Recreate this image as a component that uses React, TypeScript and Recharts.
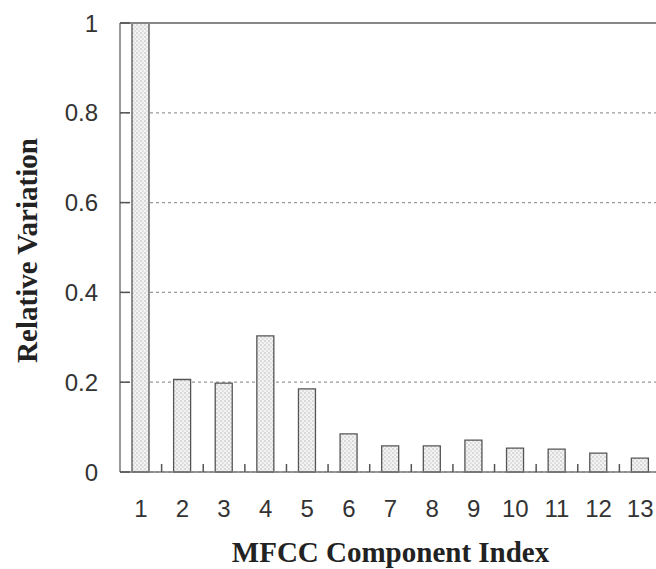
import React from "react";
import { BarChart, Bar, XAxis, YAxis, CartesianGrid, ReferenceLine, Label } from "recharts";

const components = ["1", "2", "3", "4", "5", "6", "7", "8", "9", "10", "11", "12", "13"];
const relativeVariation = [1.0, 0.206, 0.198, 0.303, 0.185, 0.085, 0.058, 0.058, 0.071, 0.053, 0.051, 0.042, 0.031];
const yTicks = [0, 0.2, 0.4, 0.6, 0.8, 1];

const data = components.map((c, i) => ({ name: c, value: relativeVariation[i] }));

const TICK_FONT = "'Liberation Sans', Arial, sans-serif";
const TITLE_FONT = "'Liberation Serif', 'Times New Roman', serif";

const XTick = (props: any) => {
  const { x, y, payload, width, visibleTicksCount } = props;
  const half = payload && typeof payload.offset === "number" && payload.offset > 0
    ? payload.offset
    : width && visibleTicksCount
    ? width / visibleTicksCount / 2
    : 0;
  return (
    <g>
      <line x1={x + half} x2={x + half} y1={y} y2={y - 8} stroke="#555" strokeWidth={1.5} />
      <text x={x} y={y + 45} textAnchor="middle" fontSize={24} fill="#333" fontFamily={TICK_FONT}>
        {payload.value}
      </text>
    </g>
  );
};

export default function App() {
  return (
    <div>
      <style>{`body{margin:0;overflow:hidden;background:#fff}`}</style>
      <BarChart
        width={670}
        height={569}
        data={data}
        margin={{ top: 23, right: 9, bottom: 0, left: 0 }}
      >
        <defs>
          <pattern id="dots" width="4" height="4" patternUnits="userSpaceOnUse">
            <rect width="4" height="4" fill="#f3f3f3" />
            <circle cx="1" cy="1" r="0.8" fill="#b8b8b8" />
            <circle cx="3" cy="3" r="0.8" fill="#c8c8c8" />
          </pattern>
        </defs>
        <CartesianGrid vertical={false} stroke="#999" strokeDasharray="3 3" strokeWidth={1.2} />
        <Bar
          dataKey="value"
          barSize={17}
          fill="url(#dots)"
          stroke="#555"
          strokeWidth={1.3}
          isAnimationActive={false}
        />
        <ReferenceLine y={1} stroke="#888" strokeWidth={2} />
        <XAxis
          dataKey="name"
          type="category"
          height={97}
          tickSize={0}
          tickMargin={0}
          tickLine={false}
          axisLine={{ stroke: "#777", strokeWidth: 1.5 }}
          tick={<XTick />}
          interval={0}
        >
          <Label
            content={(p: any) => {
              const vb = p.viewBox;
              return (
                <text
                  x={vb.x + vb.width / 2}
                  y={vb.y + 90}
                  textAnchor="middle"
                  fontSize={29}
                  fontWeight="bold"
                  fill="#222"
                  fontFamily={TITLE_FONT}
                >
                  MFCC Component Index
                </text>
              );
            }}
          />
        </XAxis>
        <YAxis
          width={120}
          domain={[0, 1]}
          ticks={yTicks}
          tickSize={-10}
          tickMargin={32}
          tickLine={{ stroke: "#555", strokeWidth: 1.5 }}
          axisLine={{ stroke: "#777", strokeWidth: 1.5 }}
          tick={{ fontSize: 24, fill: "#333", fontFamily: TICK_FONT }}
          interval={0}
        >
          <Label
            content={(p: any) => {
              const vb = p.viewBox;
              const cx = vb.x + 27;
              const cy = vb.y + vb.height / 2 + 3;
              return (
                <text
                  x={cx}
                  y={cy}
                  transform={`rotate(-90, ${cx}, ${cy})`}
                  textAnchor="middle"
                  dominantBaseline="central"
                  fontSize={29}
                  fontWeight="bold"
                  fill="#222"
                  fontFamily={TITLE_FONT}
                >
                  Relative Variation
                </text>
              );
            }}
          />
        </YAxis>
      </BarChart>
    </div>
  );
}
